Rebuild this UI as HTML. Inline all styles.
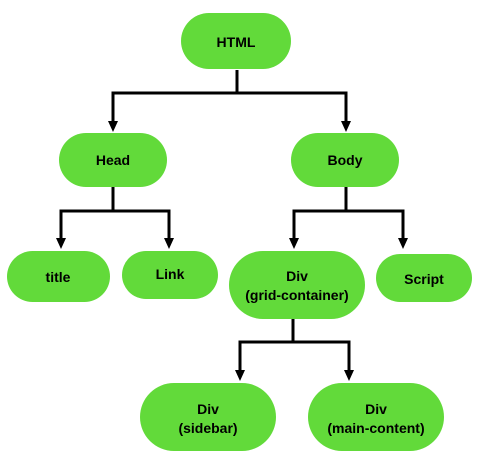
<!DOCTYPE html>
<html><head><style>body{margin:0;background:#fff}svg{display:block}text{font-family:"Liberation Sans",Arial,sans-serif;font-weight:bold;font-size:14px;fill:#000;text-anchor:middle}</style></head>
<body>
<svg width="484" height="468" viewBox="0 0 484 468">
<g fill="#62da3a">
<rect x="181" y="13" width="110" height="56" rx="28"/>
<rect x="59" y="133" width="108" height="54" rx="27"/>
<rect x="291" y="133" width="108" height="54" rx="27"/>
<rect x="7" y="251" width="103" height="51" rx="25.5"/>
<rect x="122" y="251" width="96" height="48" rx="24"/>
<rect x="229" y="251" width="136" height="68" rx="34"/>
<rect x="376" y="254" width="96" height="48" rx="24"/>
<rect x="140" y="383" width="136" height="68" rx="34"/>
<rect x="308" y="383" width="136" height="68" rx="34"/>
</g>
<g fill="none" stroke="#000" stroke-width="3">
<path d="M237 70V93M113 123V93H346V123"/>
<path d="M113 187V211M61 240V211H169V240"/>
<path d="M346 187V211M294 240V211H403V240"/>
<path d="M293 319V342M240 372V342H349V372"/>
</g>
<g fill="#000">
<path d="M108 121h10l-5 11z"/><path d="M341 121h10l-5 11z"/>
<path d="M56 238h10l-5 11z"/><path d="M164 238h10l-5 11z"/>
<path d="M289 238h10l-5 11z"/><path d="M398 238h10l-5 11z"/>
<path d="M235 370h10l-5 11z"/><path d="M344 370h10l-5 11z"/>
</g>
<text x="236" y="47">HTML</text>
<text x="113" y="165">Head</text>
<text x="345" y="165">Body</text>
<text x="58" y="282">title</text>
<text x="170" y="279">Link</text>
<text x="297" y="281">Div</text>
<text x="297" y="300">(grid-container)</text>
<text x="424" y="284">Script</text>
<text x="208" y="414">Div</text>
<text x="208" y="433">(sidebar)</text>
<text x="376" y="414">Div</text>
<text x="376" y="433">(main-content)</text>
</svg>
</body></html>
